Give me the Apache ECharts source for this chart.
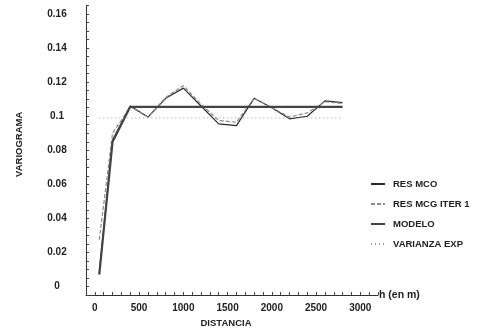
<!DOCTYPE html>
<html>
<head>
<meta charset="utf-8">
<script src="https://cdn.jsdelivr.net/npm/echarts@6/dist/echarts.min.js"></script>
<style>
  html, body { margin: 0; padding: 0; background: #fff; }
  #chart { width: 480px; height: 333px; }
</style>
</head>
<body>
<div id="chart"></div>
<script>
// lags (m) and semivariogram values
const lags = [50, 200, 400, 600, 800, 1000, 1200, 1400, 1600, 1800, 2000, 2200, 2400, 2600, 2800];
const resMco = [0.008, 0.086, 0.106, 0.0995, 0.1105, 0.1165, 0.106, 0.0955, 0.0945, 0.1105, 0.105, 0.0985, 0.1, 0.109, 0.108];
const resMcg = [0.0275, 0.09, 0.1055, 0.0995, 0.111, 0.118, 0.107, 0.0975, 0.0965, 0.1105, 0.105, 0.0995, 0.102, 0.1085, 0.1075];
const modeloLags = [50, 200, 400, 2800];
const modelo = [0.007, 0.085, 0.1055, 0.1055];
const varianzaLags = [50, 2800];
const varianza = [0.099, 0.099];

const yLabels = [0, 0.02, 0.04, 0.06, 0.08, 0.1, 0.12, 0.14, 0.16];
const xLabels = [0, 500, 1000, 1500, 2000, 2500, 3000];

const pairs = (xs, ys) => xs.map((x, i) => [x, ys[i]]);
const font = 'Liberation Sans';
const ink = '#222';

const chart = echarts.init(document.getElementById('chart'), null, { renderer: 'canvas' });

const lineSeries = (name, xs, ys, style) => ({
    name: name,
    type: 'line',
    data: pairs(xs, ys),
    symbol: 'none',
    animation: false,
    lineStyle: style,
    itemStyle: { color: style.color },
});

const option = {
    backgroundColor: '#fff',
    grid: { left: 86, right: 102, top: 5.5, bottom: 37 },
    legend: {
        orient: 'vertical',
        left: 365,
        top: 174,
        itemWidth: 14,
        itemHeight: 10,
        itemGap: 10,
        itemStyle: { opacity: 0 },
        textStyle: { fontFamily: font, fontSize: 9.5, fontWeight: 'bold', color: ink, padding: [0, 0, 0, 3] },
        data: ['RES MCO', 'RES MCG ITER 1', 'MODELO', 'VARIANZA EXP'],
    },
    xAxis: [
        {
            type: 'value',
            min: -100,
            max: 3200,
            interval: 100,
            name: 'DISTANCIA',
            nameLocation: 'middle',
            nameGap: 20,
            nameTextStyle: { fontFamily: font, fontSize: 9.5, fontWeight: 'bold', color: ink, padding: [0, 12, 0, 0] },
            axisLine: { onZero: false, lineStyle: { color: '#333', width: 1 } },
            axisTick: { inside: true, length: 3, lineStyle: { color: '#444' } },
            splitLine: { show: false },
            axisLabel: {
                margin: 8,
                fontFamily: font, fontSize: 10, fontWeight: 'bold', color: ink,
                formatter: (v) => xLabels.indexOf(Math.round(v)) >= 0 ? String(Math.round(v)) : '',
            },
        },
        {
            type: 'value',
            min: -100,
            max: 3200,
            position: 'bottom',
            name: 'h (en m)',
            nameLocation: 'end',
            nameGap: 1,
            nameTextStyle: { fontFamily: font, fontSize: 10.5, fontWeight: 'bold', color: ink },
            axisLine: { show: false, onZero: false },
            axisTick: { show: false },
            axisLabel: { show: false },
            splitLine: { show: false },
        },
    ],
    yAxis: {
        type: 'value',
        min: -0.005,
        max: 0.165,
        interval: 0.005,
        name: 'VARIOGRAMA',
        nameLocation: 'middle',
        nameGap: 62,
        nameTextStyle: { fontFamily: font, fontSize: 9.5, fontWeight: 'bold', color: ink, padding: [0, 0, 0, 12] },
        axisLine: { show: true, onZero: false, lineStyle: { color: '#333', width: 1 } },
        axisTick: { inside: true, length: 3, lineStyle: { color: '#444' } },
        splitLine: { show: false },
        axisLabel: {
            align: 'center',
            margin: 29,
            fontFamily: font, fontSize: 10, fontWeight: 'bold', color: ink,
            formatter: (v) => {
                const r = Math.round(v * 1000) / 1000;
                return yLabels.indexOf(r) >= 0 ? String(r) : '';
            },
        },
    },
    series: [
        lineSeries('RES MCO', lags, resMco, { color: '#2b2b2b', width: 1.2 }),
        lineSeries('RES MCG ITER 1', lags, resMcg, { color: '#8a8a8a', width: 1.2, type: [4, 2] }),
        lineSeries('MODELO', modeloLags, modelo, { color: '#444', width: 2.2 }),
        lineSeries('VARIANZA EXP', varianzaLags, varianza, { color: '#9a9a9a', width: 1, type: [1, 3] }),
    ],
};

chart.setOption(option);
</script>
</body>
</html>
